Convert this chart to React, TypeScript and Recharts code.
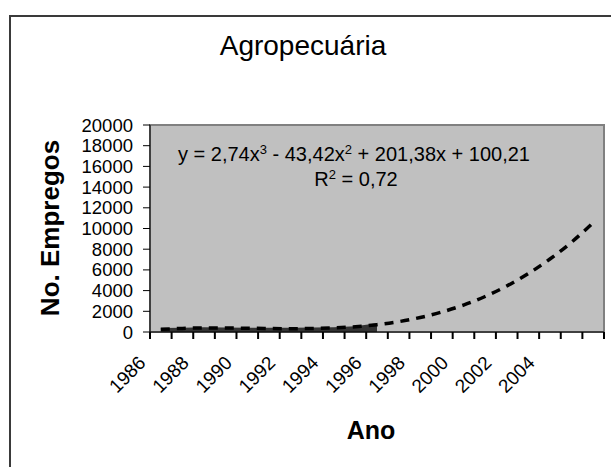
import {
  Area,
  CartesianGrid,
  ComposedChart,
  Line,
  ReferenceArea,
  XAxis,
  YAxis,
} from "recharts";

const years = [
  "1986", "1987", "1988", "1989", "1990", "1991", "1992", "1993", "1994", "1995", "1996",
  "1997", "1998", "1999", "2000", "2001", "2002", "2003", "2004", "2005", "2006",
];
// empregos observados (só até 1996)
const empregos = [380, 420, 450, 440, 420, 400, 410, 430, 460, 560, 850];
// linha de tendência polinomial
const tendencia = [
  260, 350, 390, 385, 365, 335, 320, 335, 395, 510, 710,
  1000, 1400, 1930, 2600, 3430, 4440, 5640, 7050, 8680, 10560,
];
const yTicks = [0, 2000, 4000, 6000, 8000, 10000, 12000, 14000, 16000, 18000, 20000];
const yearLabels = ["1986", "1988", "1990", "1992", "1994", "1996", "1998", "2000", "2002", "2004"];

const data = years.map((year, i) => ({
  year,
  emp: i < empregos.length ? empregos[i] : null,
  trend: tendencia[i],
}));

const FONT = "'Liberation Sans', Arial, sans-serif";

// marca entre categorias (estilo Excel) + rótulo inclinado a cada 2 anos
function YearTick(props: any) {
  const { x, y, payload } = props;
  const off = payload.offset ? payload.offset : 10.8;
  const isLast = payload.value === years[years.length - 1];
  const ax = x - 14;
  const ay = y + 32;
  return (
    <g>
      <rect x={x - off - 1} y={y} width={2} height={7} fill="#000" />
      {isLast ? <rect x={x + off - 1} y={y} width={2} height={7} fill="#000" /> : null}
      {yearLabels.includes(payload.value) ? (
        <text
          x={ax}
          y={ay}
          transform={`rotate(-45 ${ax} ${ay})`}
          textAnchor="end"
          fontSize={19}
          fontFamily={FONT}
          fill="#000"
        >
          {payload.value}
        </text>
      ) : null}
    </g>
  );
}

export default function App() {
  return (
    <div
      style={{
        position: "absolute",
        left: 0,
        top: 0,
        width: 611,
        height: 467,
        overflow: "hidden",
        background: "#fff",
        fontFamily: FONT,
      }}
    >
      <div
        style={{
          position: "absolute",
          left: 9,
          top: 15,
          width: 700,
          height: 600,
          border: "2px solid #3a3a3a",
        }}
      />
      <div style={{ position: "absolute", left: 0, top: 0 }}>
        <ComposedChart
          width={611}
          height={467}
          data={data}
          margin={{ top: 125, right: 7, bottom: 0, left: 0 }}
        >
          <CartesianGrid horizontal={false} vertical={false} fill="#c0c0c0" />
          <ReferenceArea
            x1="1986"
            x2="2006"
            y1={0}
            y2={20000}
            fill="none"
            stroke="#808080"
            strokeWidth={2}
            ifOverflow="visible"
          />
          <XAxis
            dataKey="year"
            type="category"
            scale="band"
            interval={0}
            stroke="#000"
            tickLine={false}
            tickSize={0}
            tickMargin={0}
            height={135}
            tick={<YearTick />}
          />
          <YAxis
            type="number"
            domain={[0, 20000]}
            ticks={yTicks}
            interval={0}
            width={150}
            tickSize={7}
            tickMargin={10}
            stroke="#000"
            tick={{ fill: "#000", fontSize: 18.5, fontFamily: FONT }}
          />
          <Area
            dataKey="emp"
            type="linear"
            fill="#333333"
            fillOpacity={1}
            stroke="none"
            isAnimationActive={false}
          />
          <Line
            dataKey="trend"
            type="monotone"
            stroke="#000"
            strokeWidth={3.5}
            strokeDasharray="9 7"
            dot={false}
            isAnimationActive={false}
          />
        </ComposedChart>
      </div>
      <div
        style={{
          position: "absolute",
          left: 0,
          width: 606,
          top: 30,
          textAlign: "center",
          fontSize: 28,
        }}
      >
        Agropecuária
      </div>
      <div
        style={{
          position: "absolute",
          left: 50,
          top: 228,
          transform: "translate(-50%, -50%) rotate(-90deg)",
          fontSize: 26,
          fontWeight: "bold",
          whiteSpace: "nowrap",
        }}
      >
        No. Empregos
      </div>
      <div
        style={{
          position: "absolute",
          left: 371,
          top: 430,
          transform: "translate(-50%, -50%)",
          fontSize: 25,
          fontWeight: "bold",
        }}
      >
        Ano
      </div>
      <div
        style={{
          position: "absolute",
          left: 354,
          top: 152,
          transform: "translate(-50%, -50%)",
          fontSize: 20,
          whiteSpace: "nowrap",
          textAlign: "center",
          lineHeight: "26px",
        }}
      >
        y = 2,74x<sup style={{ fontSize: 13 }}>3</sup> - 43,42x<sup style={{ fontSize: 13 }}>2</sup> + 201,38x + 100,21
      </div>
      <div
        style={{
          position: "absolute",
          left: 356,
          top: 179,
          transform: "translate(-50%, -50%)",
          fontSize: 20,
          whiteSpace: "nowrap",
        }}
      >
        R<sup style={{ fontSize: 13 }}>2</sup> = 0,72
      </div>
    </div>
  );
}
